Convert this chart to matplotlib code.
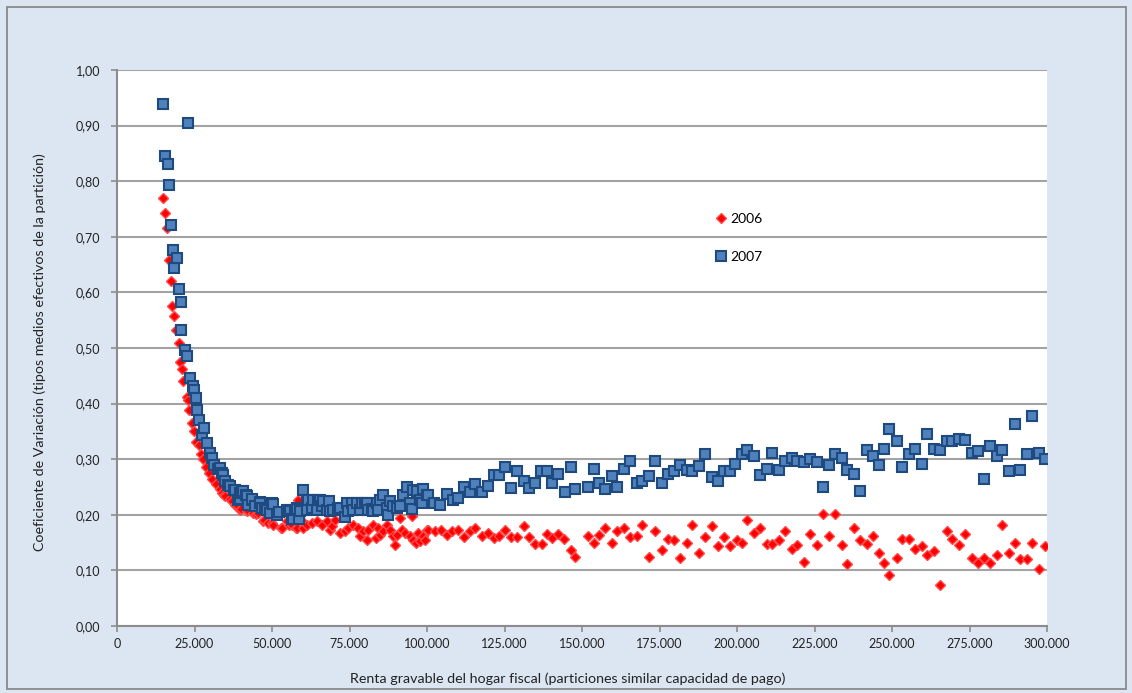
import matplotlib
matplotlib.use("Agg")
import matplotlib.pyplot as plt
from matplotlib.lines import Line2D
from matplotlib.patches import Rectangle

plt.rcParams['font.family'] = ['Lato', 'DejaVu Sans']

# ---- data ----
x2006 = [14950, 15500, 16250, 16800, 17400, 17850, 18500, 18900, 19900, 20450, 20850, 21400, 22500, 23000,
         23250, 24200, 24950, 25600, 26450, 27200, 27850, 28600, 29700, 30750, 31850, 33250, 33800, 34500,
         34850, 36350, 37000, 38050, 38300, 39700, 39900, 41850, 42050, 43950, 44750, 45600, 47250, 47400,
         48800, 50100, 50450, 52800, 53150, 54750, 55500, 56350, 57650, 58000, 58500, 59600, 60100, 61200,
         62800, 64400, 66000, 67650, 68700, 69250, 70300, 71950, 73550, 74600, 76250, 77850, 78400, 79450,
         80550, 81050, 82700, 83500, 84300, 84850, 85900, 87000, 88050, 89150, 89700, 90200, 91300, 91850,
         92900, 94500, 95050, 95600, 96500, 97200, 97750, 98800, 99300, 99900, 100400, 102600, 104400,
         106350, 108050, 110100, 112050, 113900, 115500, 117650, 119600, 121600, 123350, 125150, 127200,
         129150, 131400, 133000, 134850, 137000, 138600, 140450, 142350, 144300, 146350, 147850, 151850,
         154000, 155500, 157450, 159600, 161400, 163550, 165500, 167650, 169450, 171600, 173550, 175700,
         177650, 179700, 181600, 183800, 185600, 187750, 189700, 191850, 193800, 195800, 197750, 199900,
         201500, 203350, 205500, 207450, 209600, 211400, 213550, 215500, 217650, 219450, 221600, 223550,
         225700, 227650, 229700, 231600, 233750, 235600, 237750, 239700, 241850, 243800, 245800, 247450,
         249150, 251500, 253350, 255500, 257450, 259600, 261400, 263550, 265500, 267650, 269450, 271600,
         273550, 275700, 277650, 279700, 281600, 283750, 285600, 287750, 289700, 291300, 293450, 295300,
         297450, 299400]
y2006 = [0.770, 0.743, 0.715, 0.659, 0.621, 0.576, 0.558, 0.533, 0.509, 0.474, 0.463, 0.441, 0.412, 0.407,
         0.388, 0.365, 0.351, 0.331, 0.325, 0.310, 0.301, 0.286, 0.275, 0.265, 0.256, 0.247, 0.239, 0.236,
         0.233, 0.229, 0.224, 0.218, 0.220, 0.209, 0.211, 0.206, 0.208, 0.203, 0.202, 0.203, 0.188, 0.190,
         0.185, 0.185, 0.182, 0.177, 0.176, 0.188, 0.182, 0.182, 0.177, 0.176, 0.226, 0.188, 0.177, 0.182,
         0.185, 0.188, 0.182, 0.188, 0.173, 0.179, 0.191, 0.167, 0.170, 0.176, 0.182, 0.176, 0.161, 0.170,
         0.155, 0.173, 0.182, 0.158, 0.176, 0.164, 0.170, 0.182, 0.173, 0.161, 0.146, 0.164, 0.194, 0.173,
         0.167, 0.161, 0.197, 0.155, 0.149, 0.167, 0.152, 0.161, 0.154, 0.173, 0.173, 0.170, 0.173,
         0.164, 0.170, 0.173, 0.160, 0.170, 0.176, 0.161, 0.167, 0.158, 0.161, 0.173, 0.160,
         0.160, 0.179, 0.160, 0.148, 0.148, 0.165, 0.159, 0.165, 0.156, 0.137, 0.125, 0.161,
         0.150, 0.164, 0.176, 0.150, 0.170, 0.176, 0.160, 0.161, 0.182, 0.125, 0.170, 0.137,
         0.156, 0.154, 0.122, 0.150, 0.182, 0.131, 0.160, 0.179, 0.143, 0.160, 0.143, 0.154,
         0.150, 0.190, 0.167, 0.176, 0.148, 0.148, 0.154, 0.170, 0.138, 0.146, 0.116, 0.165,
         0.146, 0.202, 0.161, 0.202, 0.146, 0.112, 0.176, 0.154, 0.148, 0.161, 0.131, 0.114,
         0.092, 0.122, 0.156, 0.156, 0.138, 0.143, 0.128, 0.134, 0.074, 0.170, 0.156, 0.146,
         0.165, 0.122, 0.114, 0.122, 0.114, 0.128, 0.182, 0.131, 0.150, 0.120, 0.120, 0.150,
         0.102, 0.143]

x2007 = [14900, 15500, 16550, 16900, 17400, 17950, 18500, 19450, 19900, 20650, 20750, 21950, 22500, 23000,
         23450, 24600, 24900, 25600, 25900, 26450, 27500, 28050, 28950, 30000, 30650, 31400, 32500, 33250,
         34000, 34300, 34850, 35900, 36450, 37850, 38050, 39150, 39550, 39700, 40200, 40550, 41500, 41850,
         42350, 43450, 43650, 44500, 46000, 46150, 46650, 47650, 48300, 49350, 50100, 50450, 51500, 52250,
         54750, 55500, 55800, 56350, 56900, 57400, 57950, 58150, 58700, 59050, 60100, 61200, 61400, 61700,
         62800, 63350, 64400, 64950, 65500, 66000, 66550, 67650, 68500, 68700, 69800, 71400, 71950, 73550,
         74100, 74600, 75700, 76250, 77300, 78400, 78950, 80000, 80550, 81050, 82200, 82700, 83750, 84300,
         84850, 85900, 87000, 87500, 88050, 89150, 90200, 91300, 92350, 93450, 94500, 95050, 95600, 96700,
         97750, 98300, 98800, 99900, 100400, 102150, 104300, 106450, 108400, 110100, 112000, 114000,
         115550, 117700, 119600, 121500, 123350, 125150, 127100, 129150, 131300, 132800, 134950, 136750,
         138800, 140300, 142250, 144400, 146350, 147850, 151800, 154000, 155500, 157450, 159600, 161400,
         163550, 165500, 167650, 169450, 171600, 173550, 175700, 177650, 179700, 181600, 183800, 185600,
         187750, 189700, 191850, 193800, 195800, 197750, 199400, 201500, 203350, 205500, 207450, 209600,
         211400, 213550, 215500, 217650, 219450, 221600, 223550, 225700, 227650, 229700, 231600, 233750,
         235600, 237750, 239700, 241850, 243800, 245800, 247450, 249150, 251500, 253350, 255500, 257450,
         259600, 261400, 263550, 265500, 267650, 269450, 271600, 273550, 275700, 277650, 279700, 281600,
         283750, 285600, 287750, 289700, 291300, 293450, 295300, 297450, 299400]
y2007 = [0.938, 0.846, 0.831, 0.794, 0.721, 0.676, 0.643, 0.662, 0.606, 0.583, 0.532, 0.497, 0.485, 0.904,
         0.446, 0.432, 0.424, 0.410, 0.388, 0.370, 0.343, 0.356, 0.330, 0.312, 0.302, 0.289, 0.283, 0.284,
         0.276, 0.272, 0.260, 0.254, 0.251, 0.244, 0.245, 0.227, 0.229, 0.239, 0.242, 0.242, 0.235, 0.233,
         0.218, 0.227, 0.229, 0.216, 0.223, 0.221, 0.212, 0.211, 0.209, 0.203, 0.222, 0.220, 0.200, 0.205,
         0.209, 0.208, 0.206, 0.192, 0.192, 0.209, 0.213, 0.210, 0.192, 0.206, 0.244, 0.209, 0.227, 0.227,
         0.212, 0.227, 0.209, 0.227, 0.227, 0.215, 0.224, 0.209, 0.224, 0.206, 0.209, 0.212, 0.212, 0.196,
         0.221, 0.206, 0.221, 0.209, 0.221, 0.209, 0.221, 0.221, 0.221, 0.209, 0.210, 0.206, 0.221, 0.209,
         0.227, 0.236, 0.212, 0.200, 0.224, 0.215, 0.212, 0.215, 0.236, 0.250, 0.221, 0.210, 0.245, 0.242,
         0.227, 0.222, 0.247, 0.236, 0.235, 0.221, 0.218, 0.238, 0.227, 0.230, 0.250, 0.241,
         0.255, 0.241, 0.251, 0.272, 0.272, 0.286, 0.249, 0.278, 0.261, 0.249, 0.258, 0.278,
         0.278, 0.258, 0.274, 0.241, 0.286, 0.246, 0.250, 0.283, 0.258, 0.246, 0.269, 0.250,
         0.283, 0.297, 0.258, 0.261, 0.269, 0.297, 0.258, 0.274, 0.278, 0.289, 0.281, 0.278,
         0.287, 0.309, 0.268, 0.260, 0.278, 0.278, 0.292, 0.309, 0.317, 0.305, 0.272, 0.283,
         0.312, 0.281, 0.297, 0.302, 0.297, 0.295, 0.301, 0.295, 0.250, 0.289, 0.309, 0.303,
         0.281, 0.274, 0.243, 0.317, 0.305, 0.289, 0.319, 0.354, 0.332, 0.286, 0.309, 0.319,
         0.292, 0.345, 0.319, 0.317, 0.332, 0.332, 0.337, 0.334, 0.312, 0.314, 0.264, 0.323,
         0.305, 0.317, 0.278, 0.363, 0.281, 0.309, 0.377, 0.312, 0.300]

series_labels = ['2006', '2007']
x_ticks = [0, 25000, 50000, 75000, 100000, 125000, 150000, 175000, 200000, 225000, 250000, 275000, 300000]
y_ticks = [0.0, 0.1, 0.2, 0.3, 0.4, 0.5, 0.6, 0.7, 0.8, 0.9, 1.0]
x_title = 'Renta gravable del hogar fiscal (particiones similar capacidad de pago)'
y_title = 'Coeficiente de Variación (tipos medios efectivos de la partición)'

# ---- figure ----
W, H = 1132, 693
fig = plt.figure(figsize=(W / 100, H / 100), dpi=100)
bg = '#dce6f2'
fig.patch.set_facecolor(bg)
fig.patches.append(Rectangle((7 / W, 1 - 689 / H), (1126 - 7) / W, (689 - 7) / H,
                             transform=fig.transFigure, fill=False, edgecolor='#8a8a8a', lw=1.3))

ax = fig.add_axes([117 / W, 1 - 626 / H, 930 / W, 556 / H])
ax.set_facecolor('white')

red = '#ff0000'
blue_face = '#4f81bd'
blue_edge = '#1f4a80'

ax.plot(x2006, y2006, linestyle='none', marker='D', markersize=4.6, markerfacecolor=red,
        markeredgecolor='#ff4a4a', markeredgewidth=1.0, zorder=3)
ax.plot(x2007, y2007, linestyle='none', marker='s', markersize=6.5, markerfacecolor=blue_face,
        markeredgecolor=blue_edge, markeredgewidth=1.5, zorder=4)

ax.set_xlim(0, 300000)
ax.set_ylim(0, 1.0)
ax.set_xticks(x_ticks)
ax.set_yticks(y_ticks)
ax.set_xticklabels([f"{v:,}".replace(',', '.') for v in x_ticks])
ax.set_yticklabels([f"{v:.2f}".replace('.', ',') for v in y_ticks])

ax.grid(axis='y', color='#a3a3a3', lw=1.5, zorder=1)
ax.set_axisbelow(True)
for s in ['top', 'right']:
    ax.spines[s].set_visible(False)
for s in ['left', 'bottom']:
    ax.spines[s].set_color('#8c8c8c')
    ax.spines[s].set_linewidth(1.5)
ax.tick_params(axis='both', direction='out', length=4, width=1.2, color='#8c8c8c',
               labelsize=9, labelcolor='#222222')
ax.tick_params(axis='y', pad=8)
ax.tick_params(axis='x', pad=5)

fig.text(568 / W, 1 - 679 / H, x_title, ha='center', va='center', fontsize=10.3, color='#222222')
fig.text(40 / W, 1 - 352 / H, y_title, ha='center', va='center', rotation=90, fontsize=10.3,
         color='#222222')

handles = [Line2D([], [], linestyle='none', marker='D', markersize=4.6, markerfacecolor=red,
                  markeredgecolor='#ff4a4a', markeredgewidth=1.0),
           Line2D([], [], linestyle='none', marker='s', markersize=6.5, markerfacecolor=blue_face,
                  markeredgecolor=blue_edge, markeredgewidth=1.5)]
ax.legend(handles, series_labels, loc='upper left', bbox_to_anchor=(715 / W, 1 - 213 / H),
          bbox_transform=fig.transFigure, frameon=False, fontsize=10, handlelength=0.8,
          handletextpad=0.3, labelspacing=1.86, borderpad=0, borderaxespad=0)

fig.savefig('out.png', dpi=100, facecolor=bg)
